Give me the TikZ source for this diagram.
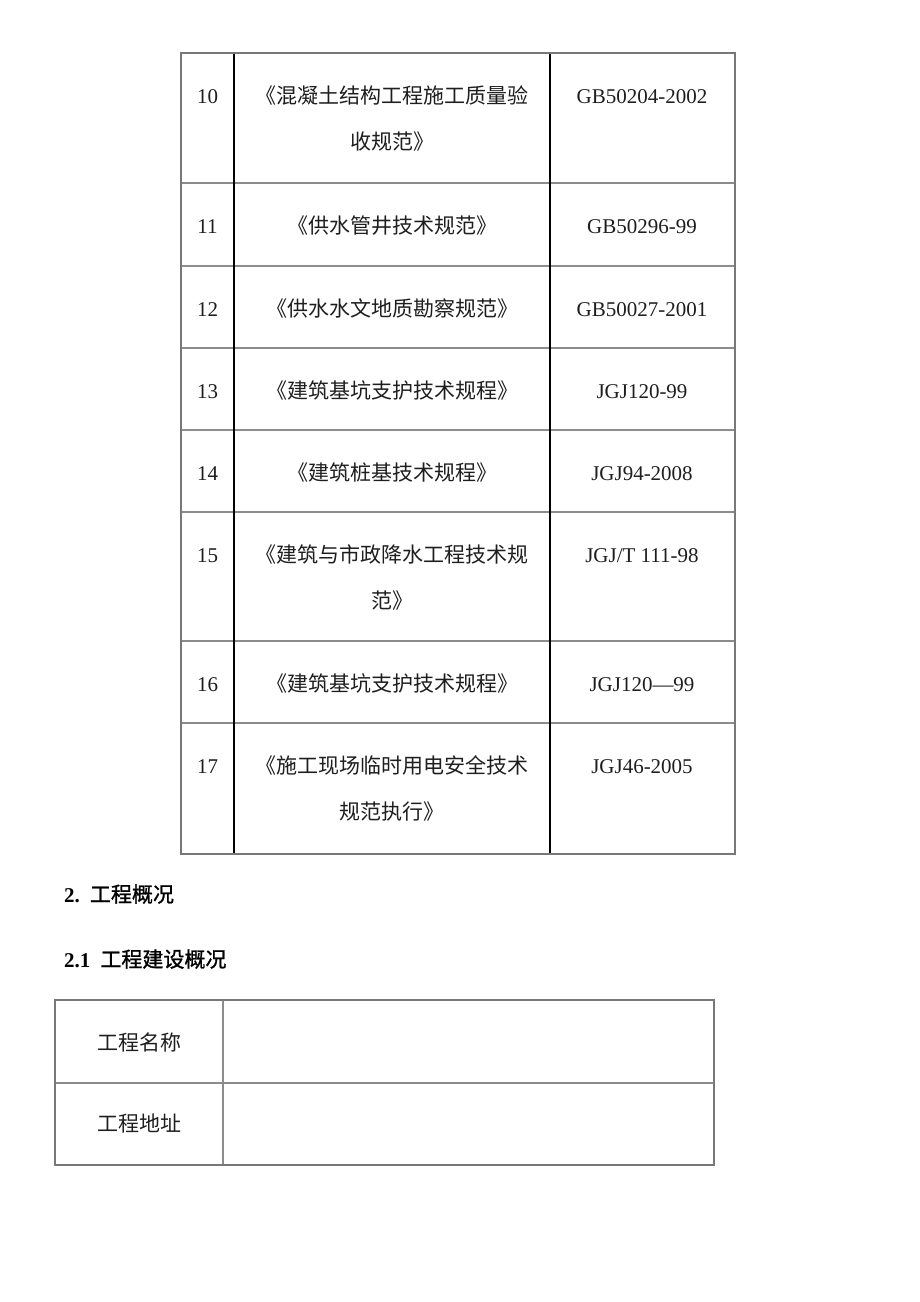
\documentclass[tikz,border=0pt]{standalone}
\usepackage{fontspec}
\setmainfont{Liberation Serif}
\newfontfamily\cjk{Noto Sans CJK SC}
\newfontfamily\cjkhead[FakeBold=1.2]{Noto Sans CJK SC}
\usepackage{xcolor}
\definecolor{rule}{RGB}{120,120,120}
\definecolor{ink}{RGB}{30,30,30}
\usetikzlibrary{positioning}
\tikzstyle{frame} = [draw=rule, line width=2.4pt]
\tikzstyle{hrule} = [draw=rule!85, line width=1.8pt]
\tikzstyle{vrule} = [draw=black, line width=1.1pt]
\tikzstyle{cell} = [
    inner sep=0pt, anchor=base, align=center,
    font=\fontsize{21}{46}\selectfont, text=ink,
]
\tikzstyle{cjkcell} = [cell, font=\fontsize{21}{46}\selectfont\cjk]
\tikzstyle{heading} = [inner sep=0pt, anchor=base west, font=\fontsize{21}{24}\selectfont, text=black]

\begin{document}
\begin{tikzpicture}[x=1pt, y=-1pt]
    \useasboundingbox (0,0) rectangle (920,1302);

    % standards table (\dy: extra lines of the title)
    \foreach \n/\ttl/\dy/\code/\top/\bot in {
        10/{《混凝土结构工程施工质量验\\收规范》}/46/{GB50204-2002}/53/183,
        11/{《供水管井技术规范》}/0/{GB50296-99}/183/266,
        12/{《供水水文地质勘察规范》}/0/{GB50027-2001}/266/348,
        13/{《建筑基坑支护技术规程》}/0/{JGJ120-99}/348/430,
        14/{《建筑桩基技术规程》}/0/{JGJ94-2008}/430/512,
        15/{《建筑与市政降水工程技术规\\范》}/46/{JGJ/T 111-98}/512/641,
        16/{《建筑基坑支护技术规程》}/0/{JGJ120—99}/641/723,
        17/{《施工现场临时用电安全技术\\规范执行》}/46/{JGJ46-2005}/723/854} {
        \node (num\n) at (207.5, \top+50) [cell] {\n};
        \node (title\n) at (392, \top+50+\dy) [cjkcell] {\ttl};
        \node (code\n) at (642, \top+50) [cell] {\code};
        \draw [hrule] (181, \bot) -- (735, \bot);
    }
    \draw [vrule] (234, 53) -- (234, 854);
    \draw [vrule] (550, 53) -- (550, 854);
    \draw [frame] (181, 53) rectangle (735, 854);

    % headings
    \node (sec2) at (64, 902) [heading] {\textbf{2.}\hspace{10pt}{\cjkhead 工程概况}};
    \node (sec21) at (64, 967) [heading] {\textbf{2.1}\hspace{10pt}{\cjkhead 工程建设概况}};

    % project table
    \node (name) at (139.5, 1050) [cjkcell] {工程名称};
    \node (addr) at (139.5, 1131) [cjkcell] {工程地址};
    \draw [hrule] (55, 1083) -- (714, 1083);
    \draw [hrule] (223, 1000) -- (223, 1165);
    \draw [frame] (55, 1000) rectangle (714, 1165);
\end{tikzpicture}
\end{document}
